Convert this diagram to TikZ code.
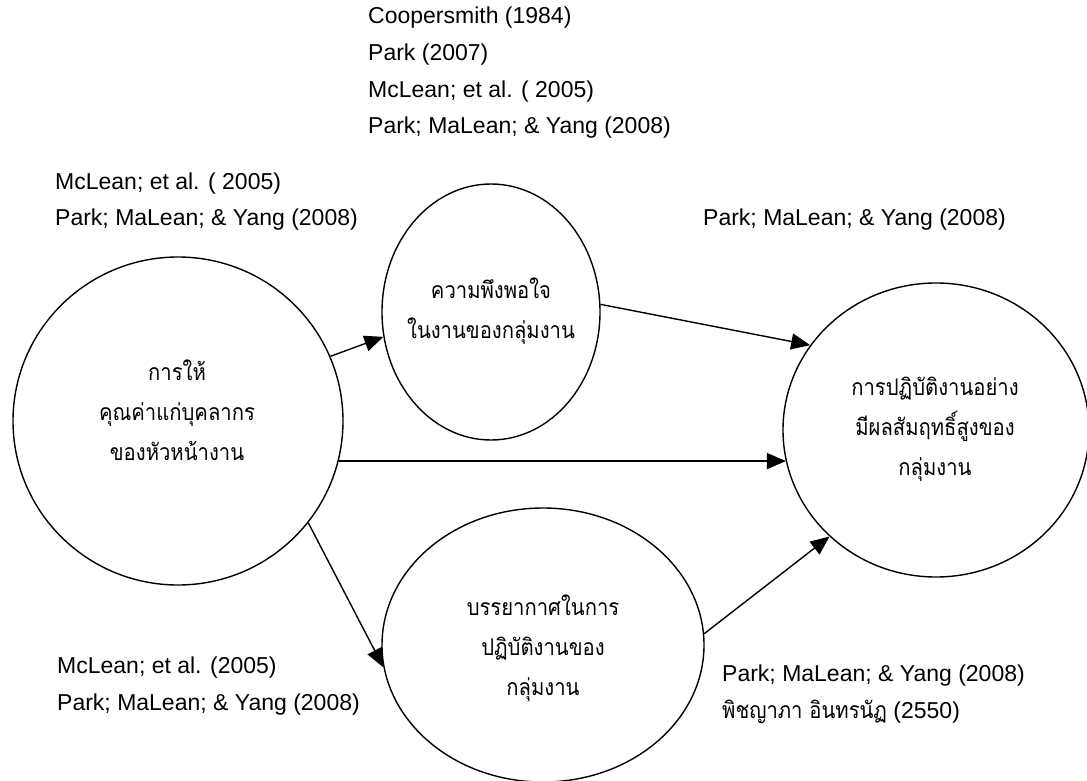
\documentclass[tikz,border=0pt]{standalone}
\usepackage{fontspec}
\setmainfont{Liberation Sans}
\newfontfamily\thaifont[Script=Thai,FakeStretch=0.88]{Loma}
\usetikzlibrary{shapes.geometric,arrows.meta}

\tikzset{
  bubble/.style={draw, ellipse, line width=1.4pt, inner sep=0pt},
  thaitext/.style={align=center, inner sep=0pt,
    font=\thaifont\fontsize{23}{40}\selectfont},
  cite/.style={anchor=west, inner sep=0pt, align=left,
    font=\fontsize{23}{37}\selectfont},
  link/.style={line width=1.4pt, -{Triangle[length=19pt,width=16pt]}}
}

\begin{document}
\begin{tikzpicture}[x=1pt,y=-1pt]
\useasboundingbox (0,0) rectangle (1087,781);

% the four constructs
\node[bubble, minimum width=330pt, minimum height=328pt] (A) at (178,421) {};
\node[thaitext] (At) at (177,410) {การให้\\คุณค่าแก่บุคลากร\\ของหัวหน้างาน};
\node[bubble, minimum width=218pt, minimum height=256pt] (B) at (491,312) {};
\node[thaitext] (Bt) at (491,311) {ความพึงพอใจ\\ในงานของกลุ่มงาน};
\node[bubble, minimum width=306pt, minimum height=294pt] (C) at (936,430) {};
\node[thaitext] (Ct) at (935,429) {การปฏิบัติงานอย่าง\\มีผลสัมฤทธิ์สูงของ\\กลุ่มงาน};
\node[bubble, minimum width=322pt, minimum height=274pt] (D) at (543,645) {};
\node[thaitext] (Dt) at (543,648) {บรรยากาศในการ\\ปฏิบัติงานของ\\กลุ่มงาน};

% relationships
\draw[link] (A.23.7) -- (B.193.5);
\draw[link] (B.4) -- (C.146.7);
\draw[link] (A.-14.8) -- (A.-14.8 -| C.192.5);
\draw[link] (A.-38) -- (D.188);
\draw[link] (D.4.6) -- (C.225);

% supporting references
\node[cite] (r1) at (368,18) {Coopersmith (1984)};
\node[cite] (r2) at (368,55) {Park (2007)};
\node[cite] (r3) at (368,92) {McLean; et al. ( 2005)};
\node[cite] (r4) at (368,128) {Park; MaLean; \& Yang (2008)};

\node[cite] (r5) at (55,184) {McLean; et al. ( 2005)};
\node[cite] (r6) at (55,220) {Park; MaLean; \& Yang (2008)};

\node[cite] (r7) at (703,220) {Park; MaLean; \& Yang (2008)};

\node[cite] (r8) at (57,668) {McLean; et al. (2005)};
\node[cite] (r9) at (57,705) {Park; MaLean; \& Yang (2008)};

\node[cite] (r10) at (722,676) {Park; MaLean; \& Yang (2008)};
\node[cite] (r11) at (722,712) {{\thaifont\fontsize{23}{37}\selectfont พิชญาภา อินทรนัฏ} (2550)};
\end{tikzpicture}
\end{document}
